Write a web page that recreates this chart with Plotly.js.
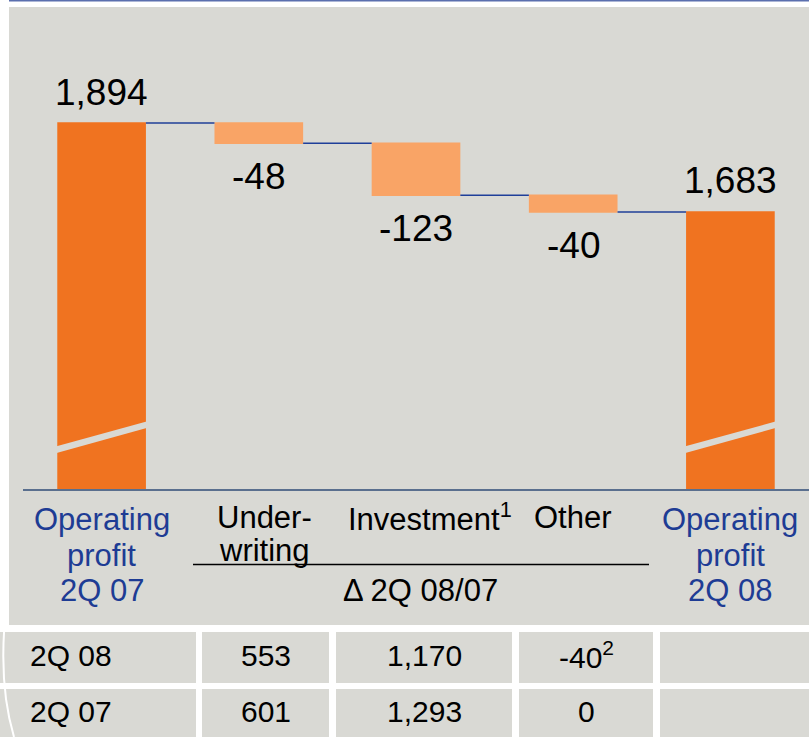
<!DOCTYPE html>
<html><head><meta charset="utf-8">
<script src="https://cdn.plot.ly/plotly-3.0.1.min.js"></script>
<style>html,body{margin:0;padding:0;background:#fff;} #chart{width:809px;height:737px;}</style>
</head><body><div id="chart"></div>
<script>
// ---- data ----
const categories = ["Operating profit 2Q 07", "Underwriting", "Investment", "Other", "Operating profit 2Q 08"];
const measures = ["absolute", "relative", "relative", "relative", "total"];
const values = [1894, -48, -123, -40, 1683];
const categoryLabelLines = [["Operating", "profit", "2Q 07"], ["Under-", "writing"], ["Investment<sup>1</sup>"], ["Other"], ["Operating", "profit", "2Q 08"]];
const deltaGroupLabel = "\u0394 2Q 08/07";
const tableRowLabels = ["2Q 08", "2Q 07"];
const tableUnderwriting = [553, 601];
const tableInvestment = [1170, 1293];
const tableOther = [-40, 0];
const tableOtherNotes = ["2", ""];

// ---- styling / geometry ----
const W = 809, H = 737, ML = 23, MR = 0, MT = 60, MB = 248;
const PW = W - ML - MR, PH = H - MT - MB;
const xp = px => (px - ML) / PW;
const yp = py => (H - MB - py) / PH;
const FONT = "Liberation Sans, Arial, sans-serif";
const ORANGE = "#F07320", LIGHT = "#F9A466", PANEL = "#D9D9D4", BLUE = "#1E3C94", AXIS = "#5A6F8E";

const fmt = v => v.toLocaleString("en-US");

const trace = {
  type: "waterfall", x: categories, y: values, measure: measures,
  totals: {marker: {color: ORANGE, line: {width: 0}}},
  decreasing: {marker: {color: LIGHT, line: {width: 0}}},
  increasing: {marker: {color: LIGHT, line: {width: 0}}},
  connector: {mode: "between", line: {color: "#1F3F99", width: 1.5}},
  textinfo: "none", hoverinfo: "skip"
};

const annotations = [];
const shapes = [];

// background panel + top rule
shapes.push({type: "rect", xref: "paper", yref: "paper", layer: "below",
  x0: xp(9), x1: xp(809), y0: yp(625), y1: yp(7), fillcolor: PANEL, line: {width: 0}});
shapes.push({type: "line", xref: "paper", yref: "paper", layer: "below",
  x0: xp(9), x1: xp(809), y0: yp(0.7), y1: yp(0.7), line: {color: "#5B6FAE", width: 1.5}});

// value labels
let run = 0;
values.forEach((v, i) => {
  let level, shift, val;
  if (measures[i] === "absolute") { run = v; level = run; shift = 31; val = v; }
  else if (measures[i] === "total") { level = run; shift = 32; val = run; }
  else { run += v; level = run; shift = -33; val = v; }
  annotations.push({x: categories[i], y: level, xref: "x", yref: "y", yshift: shift,
    text: fmt(val), showarrow: false, yanchor: "middle",
    font: {family: FONT, size: 37, color: "#000"}});
  if (measures[i] !== "relative") {
    const cx = ML + PW * (i + 0.5) / categories.length;
    const xl = xp(cx - 45), xr = xp(cx + 45);
    shapes.push({type: "path", xref: "paper", yref: "paper", layer: "above",
      path: `M ${xl},${yp(446.3)} L ${xr},${yp(421.5)} L ${xr},${yp(428.1)} L ${xl},${yp(452.9)} Z`,
      fillcolor: PANEL, line: {width: 0}});
  }
});

// category labels
const blueCenters = [519, 555, 590];
const blackCenters = [517, 550];
const labelShift = [0, 6, 14, 0, 0];
categoryLabelLines.forEach((lines, i) => {
  const isTotal = measures[i] !== "relative";
  lines.forEach((t, k) => {
    annotations.push({x: categories[i], xref: "x", yref: "paper",
      y: yp(isTotal ? blueCenters[k] : blackCenters[k]), yanchor: "middle", xshift: labelShift[i],
      text: t, showarrow: false, borderpad: 0,
      font: {family: FONT, size: 31, color: isTotal ? BLUE : "#000"}});
  });
});
shapes.push({type: "line", xref: "paper", yref: "paper", x0: xp(193), x1: xp(649), y0: yp(564.5), y1: yp(564.5),
  line: {color: "#000", width: 1.5}});
annotations.push({x: xp(420), y: yp(590), xref: "paper", yref: "paper", text: deltaGroupLabel,
  showarrow: false, yanchor: "middle", font: {family: FONT, size: 31, color: "#000"}});

// table
const colBounds = [[0, 196], [202, 329], [336, 512], [519, 653], [660, 809]];
const rowBounds = [[632, 683], [689, 740]];
const rowTextCenters = [655, 711];
rowBounds.forEach((rb, r) => {
  colBounds.forEach(cb => {
    shapes.push({type: "rect", xref: "paper", yref: "paper", layer: "below",
      x0: xp(cb[0]), x1: xp(cb[1]), y0: yp(rb[1]), y1: yp(rb[0]), fillcolor: PANEL, line: {width: 0}});
  });
  const cells = [tableRowLabels[r], fmt(tableUnderwriting[r]), fmt(tableInvestment[r]),
    fmt(tableOther[r]) + (tableOtherNotes[r] ? "<sup>" + tableOtherNotes[r] + "</sup>" : "")];
  cells.forEach((t, c) => {
    const left = c === 0;
    annotations.push({x: xp(left ? 28 : (colBounds[c][0] + colBounds[c][1]) / 2), y: yp(rowTextCenters[r]),
      xref: "paper", yref: "paper", xanchor: left ? "left" : "center", yanchor: "middle",
      text: t, showarrow: false, font: {family: FONT, size: 30, color: "#000"}});
  });
});
// decorative white arc at lower left
shapes.push({type: "path", xref: "paper", yref: "paper", layer: "below",
  path: `M ${xp(7)},${yp(600)} Q ${xp(-3)},${yp(680)} ${xp(14)},${yp(737)}`,
  line: {color: "#fff", width: 2}});

const layout = {
  width: W, height: H, margin: {l: ML, r: MR, t: MT, b: MB},
  paper_bgcolor: "#fff", plot_bgcolor: "rgba(0,0,0,0)",
  showlegend: false, waterfallgap: 0.436,
  xaxis: {type: "category", showticklabels: false, ticks: "", showgrid: false, zeroline: false,
    showline: true, linecolor: AXIS, linewidth: 2, fixedrange: true},
  yaxis: {range: [1026.3, 2043.4], visible: false, fixedrange: true},
  annotations: annotations, shapes: shapes,
  font: {family: FONT}
};
Plotly.newPlot("chart", [trace], layout, {displayModeBar: false, staticPlot: true});
</script></body></html>
